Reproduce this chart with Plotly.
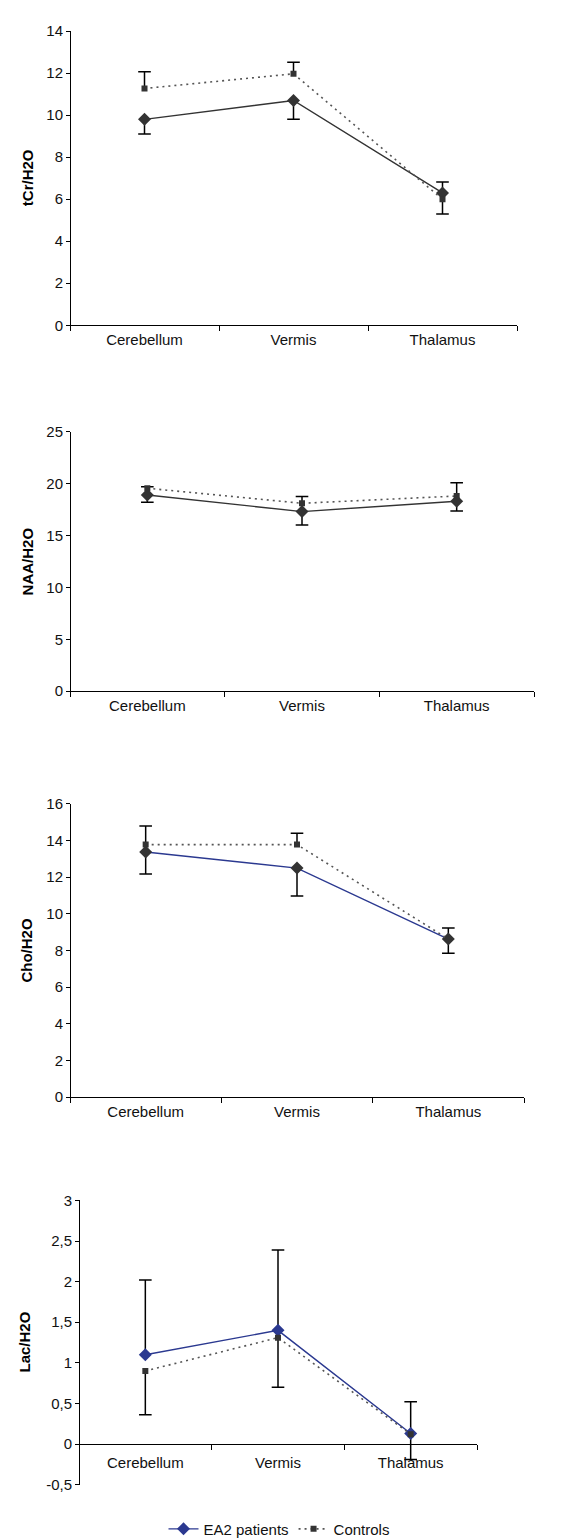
import plotly.graph_objects as go

regions = ["Cerebellum", "Vermis", "Thalamus"]

# tCr/H2O
tcr_pat = [9.8, 10.7, 6.3]
tcr_pat_up = [0, 0, 0.52]
tcr_pat_dn = [0.7, 0.9, 0]
tcr_ctl = [11.27, 11.97, 6.0]
tcr_ctl_up = [0.8, 0.55, 0]
tcr_ctl_dn = [0, 0, 0.7]

# NAA/H2O
naa_pat = [18.9, 17.3, 18.3]
naa_pat_up = [0, 0, 0]
naa_pat_dn = [0.7, 1.3, 0.95]
naa_ctl = [19.55, 18.1, 18.8]
naa_ctl_up = [0.15, 0.65, 1.27]
naa_ctl_dn = [0, 0, 0]

# Cho/H2O
cho_pat = [13.38, 12.5, 8.63]
cho_pat_up = [0, 0, 0.6]
cho_pat_dn = [1.2, 1.53, 0]
cho_ctl = [13.78, 13.78, 8.63]
cho_ctl_up = [1.02, 0.62, 0]
cho_ctl_dn = [0, 0, 0.78]

# Lac/H2O
lac_pat = [1.1, 1.4, 0.13]
lac_pat_up = [0.92, 0.99, 0.39]
lac_pat_dn = [0, 0, 0]
lac_ctl = [0.9, 1.31, 0.12]
lac_ctl_up = [0, 0, 0]
lac_ctl_dn = [0.54, 0.61, 0.31]
lac_tickvals = [-0.5, 0, 0.5, 1, 1.5, 2, 2.5, 3]
lac_ticktext = ["-0,5", "0", "0,5", "1", "1,5", "2", "2,5", "3"]

W, H = 583, 1538
FONT = "Liberation Sans, Arial, sans-serif"
NAVY = "#2B3990"
DARK = "#333333"
FS = 15

panels = [
    (tcr_pat, tcr_pat_up, tcr_pat_dn, tcr_ctl, tcr_ctl_up, tcr_ctl_dn, "tCr/H2O", [0, 14], 2, 14.3, 311.7, 62, 509, DARK, DARK, 19),
    (naa_pat, naa_pat_up, naa_pat_dn, naa_ctl, naa_ctl_up, naa_ctl_dn, "NAA/H2O", [0, 25], 5, 419.3, 681.7, 62, 526, DARK, DARK, 19),
    (cho_pat, cho_pat_up, cho_pat_dn, cho_ctl, cho_ctl_up, cho_ctl_dn, "Cho/H2O", [0, 16], 2, 795.7, 1092.3, 62, 516, NAVY, DARK, 19),
    (lac_pat, lac_pat_up, lac_pat_dn, lac_ctl, lac_ctl_up, lac_ctl_dn, "Lac/H2O", [-0.5, 3], 0.5, 1196.7, 1484.0, 71, 469, NAVY, NAVY, 17),
]


def err_traces(vals, up, dn, xa, ya):
    xs, ys, tx, ty = [], [], [], []
    for c, v, u, d in zip(regions, vals, up, dn):
        for e in (u, -d):
            if e != 0:
                xs += [c, c, None]
                ys += [v, v + e, None]
                tx.append(c)
                ty.append(v + e)
    bar = go.Scatter(x=xs, y=ys, xaxis=xa, yaxis=ya, mode="lines", showlegend=False,
                     hoverinfo="skip", line=dict(color="#000", width=1.5))
    cap = go.Scatter(x=tx, y=ty, xaxis=xa, yaxis=ya, mode="markers", showlegend=False,
                     hoverinfo="skip",
                     marker=dict(symbol="line-ew", size=9, color="#000",
                                 line=dict(color="#000", width=1.5)))
    return [bar, cap]


fig = go.Figure()
layout = dict(
    width=W, height=H,
    margin=dict(l=0, r=0, t=0, b=0),
    paper_bgcolor="white", plot_bgcolor="white",
    font=dict(family=FONT, size=FS, color="#111"),
    showlegend=True,
)
annotations = []

for i, (pv, pu, pd, cv, cu, cd, title, yr, dt, top, bot, left, right, pcol, pmcol, tx) in enumerate(panels):
    n = i + 1
    xa = "x" if n == 1 else f"x{n}"
    ya = "y" if n == 1 else f"y{n}"
    last = (n == 4)
    for t in err_traces(pv, pu, pd, xa, ya) + err_traces(cv, cu, cd, xa, ya):
        fig.add_trace(t)
    fig.add_trace(go.Scatter(
        x=regions, y=pv, xaxis=xa, yaxis=ya, mode="lines+markers",
        name="EA2 patients", showlegend=last, legendrank=1,
        line=dict(color=pcol, width=1.4),
        marker=dict(symbol="diamond", size=10, color=pmcol),
    ))
    fig.add_trace(go.Scatter(
        x=regions, y=cv, xaxis=xa, yaxis=ya, mode="lines+markers",
        name="Controls", showlegend=last, legendrank=2,
        line=dict(color="#555555", width=1.6, dash="2px,4px"),
        marker=dict(symbol="square", size=6, color=DARK),
    ))
    ydom = [1 - bot / H, 1 - top / H]
    xdom = [left / W, right / W]
    xkey = "xaxis" if n == 1 else f"xaxis{n}"
    ykey = "yaxis" if n == 1 else f"yaxis{n}"
    if yr[0] < 0:
        zero_px = bot - (0 - yr[0]) / (yr[1] - yr[0]) * (bot - top)
        xpos = dict(anchor="free", position=1 - zero_px / H)
        standoff = 5
    else:
        xpos = dict(anchor=ya)
        standoff = 1
    layout[xkey] = dict(
        domain=xdom, type="category", range=[-0.5, 2.5],
        showline=True, linecolor="#000", linewidth=1,
        ticks="outside", ticklen=5, tickcolor="#000", tickson="boundaries",
        showgrid=False, zeroline=False, fixedrange=True,
        ticklabelstandoff=standoff,
        tickfont=dict(family=FONT, size=FS, color="#111"),
        **xpos,
    )
    yax = dict(
        domain=ydom, range=yr, dtick=dt, tick0=0,
        showline=True, linecolor="#000", linewidth=1,
        ticks="outside", ticklen=4, tickcolor="#000",
        showgrid=False, zeroline=False, anchor="free", position=left / W,
        tickfont=dict(family=FONT, size=FS, color="#111"),
        tickformat="d",
    )
    if n == 4:
        yax.update(tickmode="array", tickvals=lac_tickvals, ticktext=lac_ticktext)
    layout[ykey] = yax
    annotations.append(dict(
        text=f"<b>{title}</b>", xref="paper", yref="paper",
        x=tx / W, y=1 - (top + bot) / 2 / H, textangle=-90, showarrow=False,
        font=dict(family=FONT, size=FS, color="#000"),
        xanchor="center", yanchor="middle",
    ))

layout["annotations"] = annotations
layout["legend"] = dict(
    orientation="h", x=271 / W, y=1 - 1529 / H, xanchor="center", yanchor="middle",
    font=dict(family=FONT, size=FS, color="#111"), bgcolor="rgba(0,0,0,0)",
    tracegroupgap=0,
)
fig.update_layout(**layout)
fig.write_html("out.html")
